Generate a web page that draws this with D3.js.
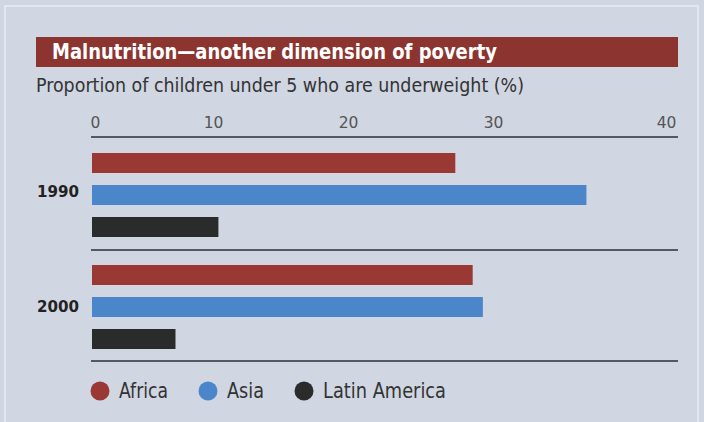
<!DOCTYPE html>
<html>
<head>
<meta charset="utf-8">
<script src="https://cdn.jsdelivr.net/npm/d3@7"></script>
<style>
  html, body { margin: 0; padding: 0; background: #d0d6e2; }
  svg { display: block; }
</style>
</head>
<body>
<svg id="chart" width="704" height="422"></svg>
<script>
// ---- data ----
const years = ["1990", "2000"];
const series = ["Africa", "Asia", "Latin America"];
const africa = [27.4, 28.6];
const asia = [35.4, 29.3];
const latinAmerica = [10.4, 6.9];
const tickValues = [0, 10, 20, 30, 40];
const titleText = "Malnutrition\u2014another dimension of poverty";
const subtitleText = "Proportion of children under 5 who are underweight (%)";

const colors = ["#9a3933", "#4a86c9", "#2a2c2c"];
const values = [africa, asia, latinAmerica];

const svg = d3.select("#chart");
const W = 704, H = 422;
const narrow = "'Liberation Sans Narrow', 'DejaVu Sans Condensed', 'Roboto', Arial, sans-serif";

// panel
svg.append("rect").attr("x", 0).attr("y", 0).attr("width", W).attr("height", H).attr("fill", "#d0d6e2");
svg.append("rect").attr("x", 5).attr("y", 6).attr("width", 693).attr("height", 430)
  .attr("fill", "none").attr("stroke", "#e3e7ef").attr("stroke-width", 2);

// title bar
svg.append("rect").attr("x", 36).attr("y", 37).attr("width", 642).attr("height", 30).attr("fill", "#8b3430");
svg.append("text").attr("x", 52).attr("y", 59)
  .attr("font-family", narrow)
  .attr("font-weight", "bold").attr("font-size", 22).attr("fill", "#ffffff")
  .attr("textLength", 445).attr("lengthAdjust", "spacingAndGlyphs")
  .text(titleText);

svg.append("text").attr("x", 36).attr("y", 92)
  .attr("font-family", narrow)
  .attr("font-size", 19).attr("fill", "#333")
  .attr("textLength", 488).attr("lengthAdjust", "spacingAndGlyphs")
  .text(subtitleText);

// scales
const x = d3.scaleLinear().domain(tickValues).range([92, 213, 348, 493, 666]);
const y = d3.scaleBand().domain(years).range([137, 361]).paddingInner(0).paddingOuter(0);
const yInner = d3.scaleBand().domain(series).range([16, 100]).paddingInner(0.375).paddingOuter(0);

// axis (top)
const axis = d3.axisTop(x).tickValues(tickValues).tickSize(0).tickPadding(0).tickFormat(d3.format("d"));
const gAxis = svg.append("g").attr("transform", "translate(0,128)").call(axis);
gAxis.select(".domain").remove();
gAxis.selectAll("text")
  .attr("font-family", "'DejaVu Sans', sans-serif").attr("font-size", 15.5).attr("fill", "#555")
  .attr("dy", 0).attr("x", d => d === 0 ? 3 : 0);

// horizontal rules
const ruleYs = [137, 250, 361];
svg.selectAll("line.rule").data(ruleYs).enter().append("line")
  .attr("class", "rule")
  .attr("x1", 91).attr("x2", 678).attr("y1", d => d).attr("y2", d => d)
  .attr("stroke", "#555a60").attr("stroke-width", 2);

// bars
const groups = svg.selectAll("g.year").data(years).enter().append("g")
  .attr("class", "year")
  .attr("transform", d => `translate(0,${y(d)})`);

groups.selectAll("rect").data((d, i) => series.map((s, j) => ({ s, j, v: values[j][i] })))
  .enter().append("rect")
  .attr("x", x(0))
  .attr("y", d => yInner(d.s))
  .attr("width", d => x(d.v) - x(0))
  .attr("height", yInner.bandwidth())
  .attr("fill", d => colors[d.j]);

// year labels
groups.append("text")
  .attr("x", 79)
  .attr("y", (d, i) => yInner("Asia") + yInner.bandwidth() / 2 + (i === 0 ? -3 : 0))
  .attr("text-anchor", "end").attr("dominant-baseline", "central")
  .attr("font-family", "'DejaVu Sans', sans-serif").attr("font-weight", "bold")
  .attr("font-size", 15).attr("fill", "#222")
  .attr("textLength", 42).attr("lengthAdjust", "spacingAndGlyphs")
  .text(d => d);

// legend
const legendX = [100, 208, 304];
const legendW = [49, 37, 123];
const legend = svg.selectAll("g.legend").data(series).enter().append("g")
  .attr("class", "legend")
  .attr("transform", (d, i) => `translate(${legendX[i]},391)`);
legend.append("circle").attr("r", 9.5).attr("fill", (d, i) => colors[i]);
legend.append("text").attr("x", 19).attr("y", 6.5)
  .attr("font-family", narrow)
  .attr("font-size", 20.5).attr("fill", "#333")
  .attr("textLength", (d, i) => legendW[i]).attr("lengthAdjust", "spacingAndGlyphs")
  .text(d => d);
</script>
</body>
</html>
